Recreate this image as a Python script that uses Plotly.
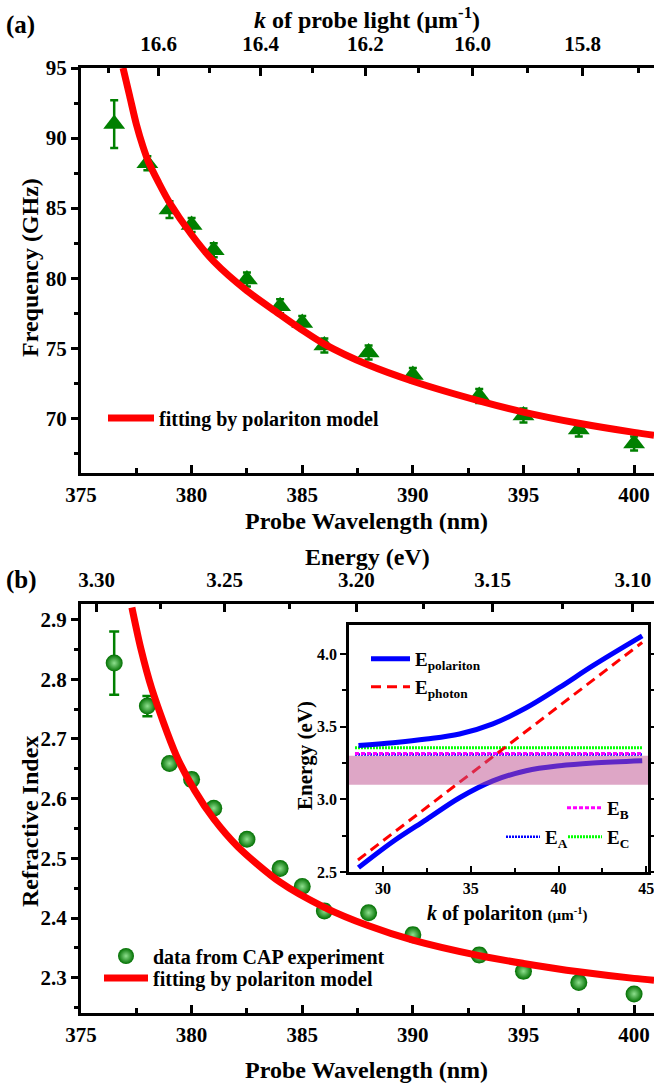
import math
import plotly.graph_objects as go

W, H = 654, 1088
FONT = "Liberation Serif, Times New Roman, serif"

# ---------------- panel (a) data ----------------
wavelength = [376.5, 378.0, 379.0, 380.0, 381.0, 382.5, 384.0, 385.0, 386.0, 388.0,
              390.0, 393.0, 395.0, 397.5, 400.0]
frequency = [91.0, 88.2, 84.9, 83.8, 82.0, 79.9, 78.0, 76.8, 75.2, 74.7,
             73.1, 71.6, 70.2, 69.2, 68.2]
frequency_err = [1.7, 0.5, 0.6, 0.5, 0.5, 0.5, 0.5, 0.5, 0.5, 0.5,
                 0.5, 0.5, 0.5, 0.5, 0.5]
fit_a_wavelength = [376.9, 377.2, 377.5, 377.8, 378.05, 378.5, 379.0, 380.0, 381.0, 382.5,
                    384.0, 385.0, 386.0, 388.0, 390.0, 393.0, 395.0, 397.5, 400.0, 400.9]
fit_a_frequency = [95.0, 93.0, 91.0, 89.4, 88.3, 86.85, 85.4, 83.1, 81.2, 79.1,
                   77.4, 76.3, 75.3, 73.8, 72.65, 71.25, 70.45, 69.65, 69.0, 68.8]

# ---------------- panel (b) data ----------------
refr_index = [2.827, 2.755, 2.659, 2.632, 2.584, 2.532, 2.483, 2.453, 2.412, 2.409,
              2.372, 2.338, 2.311, 2.292, 2.273]
refr_err = [0.053, 0.017, 0.008, 0.01, 0.008, 0.008, 0.008, 0.008, 0.01, 0.008,
            0.01, 0.01, 0.01, 0.008, 0.008]
fit_b_wavelength = [377.3, 377.7, 378.2, 379.3, 380.15, 381.0, 382.1, 384.0, 386.0,
                    388.0, 390.0, 393.0, 395.0, 397.5, 400.0, 400.9]
fit_b_index = [2.92, 2.852, 2.784, 2.673, 2.613, 2.566, 2.519, 2.46, 2.418,
               2.387, 2.363, 2.337, 2.324, 2.310, 2.299, 2.296]

# ---------------- inset data ----------------
k_polariton = [28.6, 30.57, 32.47, 34.36, 36.26, 38.16, 40.06, 41.96, 44.77]
E_upper = [3.37, 3.39, 3.415, 3.45, 3.52, 3.63, 3.77, 3.92, 4.125]
E_lower = [2.53, 2.71, 2.861, 3.011, 3.127, 3.197, 3.231, 3.25, 3.266]
k_photon = [28.57, 36.6, 44.77]
E_photon = [2.583, 3.325, 4.08]
k_exciton = [28.4, 44.8]
E_A = [3.309, 3.309]
E_B = [3.315, 3.315]
E_C = [3.355, 3.355]
band_E = [3.10, 3.30]

# ---------------- tick labels ----------------
k_probe_ticks = [16.6, 16.4, 16.2, 16.0, 15.8]
k_probe_minor = [16.7, 16.5, 16.3, 16.1, 15.9, 15.7]
energy_ticks = [3.30, 3.25, 3.20, 3.15, 3.10]
energy_minor = [3.275, 3.225, 3.175, 3.125]


def k_to_nm(k):
    return 2000 * math.pi / k


def ev_to_nm(e):
    return 1239.84 / e


def px(x):
    return x / W


def py(y):
    return 1 - y / H


GREEN = "#008000"
RED = "#ff0000"
BLUE = "#0000ff"

fig = go.Figure()

# ---- (a) ----
fig.add_trace(go.Scatter(
    x=wavelength, y=frequency, mode="markers", xaxis="x", yaxis="y",
    marker=dict(symbol="triangle-up", size=19, color=GREEN),
    error_y=dict(type="data", array=frequency_err, color=GREEN, thickness=2.5, width=4),
    showlegend=False, hoverinfo="skip"))
fig.add_trace(go.Scatter(
    x=fit_a_wavelength, y=fit_a_frequency, mode="lines", xaxis="x", yaxis="y",
    line=dict(color=RED, width=7, shape="spline", smoothing=0.8),
    name="fitting by polariton model", legend="legend"))
fig.add_trace(go.Scatter(
    x=wavelength, y=frequency, mode="markers", xaxis="x2", yaxis="y",
    marker=dict(opacity=0), showlegend=False, hoverinfo="skip"))

# ---- (b) ----
fig.add_trace(go.Scatter(
    x=wavelength, y=refr_index, mode="markers", xaxis="x3", yaxis="y3",
    marker=dict(symbol="circle", size=17, color="#006f00",
                gradient=dict(type="radial", color="#8ee08e"),
                line=dict(width=0)),
    error_y=dict(type="data", array=refr_err, color=GREEN, thickness=2.5, width=5),
    name="data from CAP experiment", legend="legend2"))
fig.add_trace(go.Scatter(
    x=fit_b_wavelength, y=fit_b_index, mode="lines", xaxis="x3", yaxis="y3",
    line=dict(color=RED, width=7, shape="spline", smoothing=0.8),
    name="fitting by polariton model", legend="legend3"))
fig.add_trace(go.Scatter(
    x=wavelength, y=refr_index, mode="markers", xaxis="x4", yaxis="y3",
    marker=dict(opacity=0), showlegend=False, hoverinfo="skip"))

# ---- inset ----
fig.add_trace(go.Scatter(
    x=k_exciton, y=E_A, mode="lines", xaxis="x5", yaxis="y5",
    line=dict(color=BLUE, width=2.5, dash="2px,1px"),
    name="E<sub>A</sub>", legend="legend7"))
fig.add_trace(go.Scatter(
    x=k_exciton, y=E_B, mode="lines", xaxis="x5", yaxis="y5",
    line=dict(color="#ff00ff", width=3, dash="4px,2px"),
    name="E<sub>B</sub>", legend="legend6"))
fig.add_trace(go.Scatter(
    x=k_exciton, y=E_C, mode="lines", xaxis="x5", yaxis="y5",
    line=dict(color="#00ff00", width=3, dash="2px,1px"),
    name="E<sub>C</sub>", legend="legend8"))
fig.add_trace(go.Scatter(
    x=k_polariton, y=E_upper, mode="lines", xaxis="x5", yaxis="y5",
    line=dict(color=BLUE, width=5, shape="spline"),
    name="E<sub>polariton</sub>", legend="legend4"))
fig.add_trace(go.Scatter(
    x=k_polariton, y=E_lower, mode="lines", xaxis="x5", yaxis="y5",
    line=dict(color=BLUE, width=5, shape="spline"),
    showlegend=False, hoverinfo="skip"))
fig.add_trace(go.Scatter(
    x=k_photon, y=E_photon, mode="lines", xaxis="x5", yaxis="y5",
    line=dict(color=RED, width=3, dash="10px,6px"),
    name="E<sub>photon</sub>", legend="legend5"))

tickfont = dict(family=FONT, size=21, color="black", weight="bold")
inset_tickfont = dict(family=FONT, size=16, color="black", weight="bold")

common = dict(showgrid=False, zeroline=False, showline=True, linecolor="black",
              linewidth=3, tickcolor="black", tickwidth=2.5, automargin=False,
              ticklabeloverflow="allow")
inset_common = dict(showgrid=False, zeroline=False, showline=True, linecolor="black",
                    linewidth=2.5, tickcolor="black", tickwidth=2, automargin=False,
                    ticklabeloverflow="allow")

xa_dom = [px(81), 1.0]
wl_range = [375, 400.9]

fig.update_layout(
    width=W, height=H, margin=dict(l=0, r=0, t=0, b=0, autoexpand=False),
    plot_bgcolor="white", paper_bgcolor="white",
    xaxis=dict(domain=xa_dom, anchor="y", range=wl_range, tick0=375, dtick=5,
               ticks="inside", ticklen=8, tickfont=tickfont, ticklabelstandoff=1,
               minor=dict(dtick=2.5, ticks="inside", ticklen=5, tickcolor="black", tickwidth=2.5),
               **common),
    xaxis2=dict(overlaying="x", anchor="y", side="top", range=wl_range,
                tickmode="array", tickvals=[k_to_nm(k) for k in k_probe_ticks],
                ticktext=[f"{k:.1f}" for k in k_probe_ticks],
                ticks="inside", ticklen=8, tickfont=tickfont, ticklabelstandoff=6,
                minor=dict(tickmode="array", tickvals=[k_to_nm(k) for k in k_probe_minor],
                           ticks="inside", ticklen=5, tickcolor="black", tickwidth=2.5),
                **common),
    yaxis=dict(domain=[py(473), py(68)], anchor="x", range=[66.1, 95.0], tick0=70, dtick=5,
               ticks="outside", ticklen=7, tickfont=tickfont,
               minor=dict(dtick=2.5, ticks="outside", ticklen=4, tickcolor="black", tickwidth=2.5),
               **common),
    xaxis3=dict(domain=xa_dom, anchor="y3", range=wl_range, tick0=375, dtick=5,
                ticks="inside", ticklen=8, tickfont=tickfont, ticklabelstandoff=1,
                minor=dict(dtick=2.5, ticks="inside", ticklen=5, tickcolor="black", tickwidth=2.5),
                **common),
    xaxis4=dict(overlaying="x3", anchor="y3", side="top", range=wl_range,
                tickmode="array", tickvals=[ev_to_nm(e) for e in energy_ticks],
                ticktext=[f"{e:.2f}" for e in energy_ticks],
                ticks="inside", ticklen=8, tickfont=tickfont, ticklabelstandoff=6,
                minor=dict(tickmode="array", tickvals=[ev_to_nm(e) for e in energy_minor],
                           ticks="inside", ticklen=5, tickcolor="black", tickwidth=2.5),
                **common),
    yaxis3=dict(domain=[py(1013), py(604)], anchor="x3", range=[2.241, 2.926], tick0=2.3, dtick=0.1,
                ticks="outside", ticklen=7, tickfont=tickfont, tickformat=".1f",
                minor=dict(dtick=0.05, ticks="outside", ticklen=4, tickcolor="black", tickwidth=2.5),
                **common),
    xaxis5=dict(domain=[px(349), px(648)], anchor="y5", range=[28.06, 45.1], tick0=30, dtick=5,
                ticks="inside", ticklen=6, tickfont=inset_tickfont, mirror=True,
                minor=dict(dtick=2.5, ticks="inside", ticklen=4, tickcolor="black", tickwidth=2),
                **inset_common),
    yaxis5=dict(domain=[py(872), py(625)], anchor="x5", range=[2.5, 4.2], tick0=2.5, dtick=0.5,
                ticks="outside", ticklen=6, tickfont=inset_tickfont, tickformat=".1f", mirror="ticks",
                minor=dict(dtick=0.25, ticks="outside", ticklen=4, tickcolor="black", tickwidth=2),
                **inset_common),
)

# absorption band
fig.add_shape(type="rect", xref="x5 domain", yref="y5", x0=0, x1=1,
              y0=band_E[0], y1=band_E[1], fillcolor="rgba(189,77,141,0.5)",
              line=dict(width=0), layer="above")


def legend_box(x, y, size, itemwidth):
    return dict(x=px(x), y=py(y), xanchor="left", yanchor="middle",
                bgcolor="rgba(0,0,0,0)", borderwidth=0, itemwidth=itemwidth,
                font=dict(family=FONT, size=size, color="black", weight="bold"),
                itemclick=False, itemdoubleclick=False, tracegroupgap=0)


fig.update_layout(
    legend=legend_box(103, 418, 20, 46),
    legend2=legend_box(99, 956, 20, 44),
    legend3=legend_box(99, 978, 20, 44),
    legend4=legend_box(366, 659, 19, 39),
    legend5=legend_box(366, 687, 19, 39),
    legend6=legend_box(562, 808, 19, 35),
    legend7=legend_box(501, 837, 19, 34),
    legend8=legend_box(563, 837, 19, 34),
)


def note(text, x, y, size=24, angle=0):
    fig.add_annotation(text=text, x=px(x), y=py(y), xref="paper", yref="paper",
                       showarrow=False, textangle=angle, xanchor="center", yanchor="middle",
                       font=dict(family=FONT, size=size, color="black", weight="bold"))


note("(a)", 20, 25, 25)
note("(b)", 22, 580, 25)
note("<i>k</i> of probe light (µm<sup>-1</sup>)", 367, 18, 24)
note("Probe Wavelength (nm)", 366, 521, 24)
note("Frequency (GHz)", 30, 268, 24, angle=-90)
note("Energy (eV)", 367, 557, 24)
note("Probe Wavelength (nm)", 366, 1070, 24)
note("Refractive Index", 30, 822, 24, angle=-90)
note("Energy (eV)", 305, 756, 21, angle=-90)
note("<i>k</i> of polariton <span style='font-size:15px'>(µm<sup>-1</sup>)</span>", 507, 913, 20)

fig.write_html("out.html")
